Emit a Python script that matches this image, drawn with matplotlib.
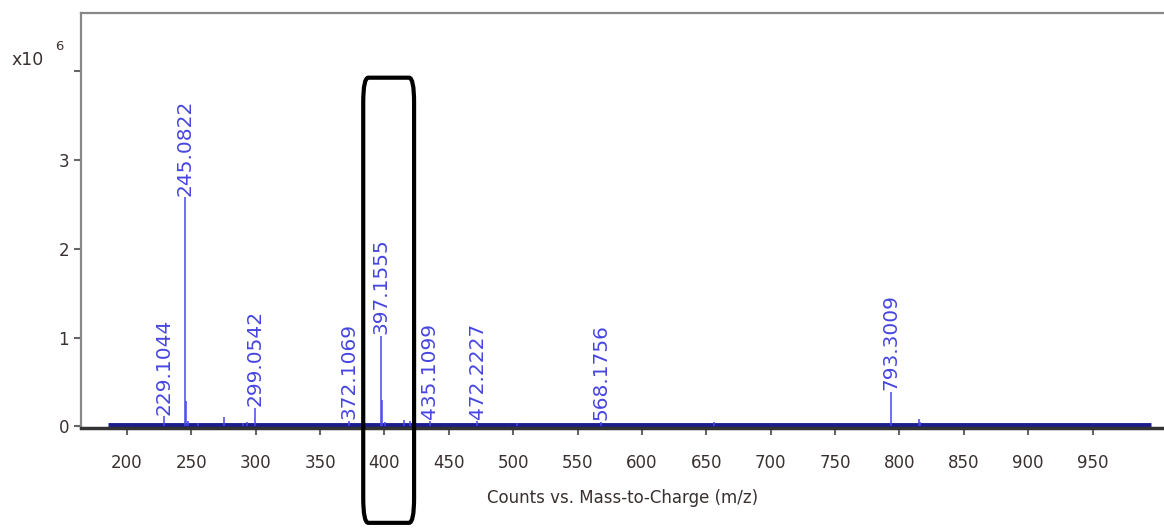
import matplotlib.pyplot as plt
from matplotlib.patches import FancyBboxPatch

# labelled peaks (m/z, intensity x10^6)
peak_mz = [229.1044, 245.0822, 299.0542, 372.1069, 397.1555, 435.1099, 472.2227, 568.1756, 793.3009]
peak_int = [0.11, 2.58, 0.21, 0.06, 1.02, 0.06, 0.06, 0.05, 0.39]

# small unlabelled peaks
minor_mz = [246.08, 247.1, 255.0, 275.0, 290.0, 293.0, 398.16, 400.2, 415.0, 420.0, 503.0, 656.0, 815.3, 816.3]
minor_int = [0.28, 0.06, 0.04, 0.1, 0.04, 0.05, 0.30, 0.05, 0.07, 0.06, 0.04, 0.05, 0.08, 0.05]

# baseline extent
base_mz = [185, 995]
base_int = [0.01, 0.01]

xticks = list(range(200, 1000, 50))
yticks = [0, 1, 2, 3, 4]
ytick_labels = ["0", "1", "2", "3", ""]

fig = plt.figure(figsize=(11.64, 5.29), dpi=100)
ax = fig.add_axes([0.0696, 0.191, 0.931, 0.7845])

ax.plot(base_mz, base_int, color="#1c1c8c", lw=3.5, solid_capstyle="butt", zorder=2)
ax.vlines(minor_mz, 0, minor_int, color="#4848ec", lw=1.1, zorder=3)
ax.vlines(peak_mz, 0, peak_int, color="#4848ec", lw=1.1, zorder=3)

for mz, h in zip(peak_mz, peak_int):
    ax.text(mz, h + 0.02, f"{mz:.4f}", rotation=90, ha="center", va="bottom",
            color="#4646e0", fontsize=14.5)

ax.set_xlim(164.3, 1006)
ax.set_ylim(-0.02, 4.66)
ax.set_xticks(xticks)
ax.set_yticks(yticks)
ax.set_yticklabels(ytick_labels)
ax.tick_params(axis="both", colors="#666666", labelcolor="#3a3030", labelsize=12,
               length=5, width=1.5)
ax.tick_params(axis="x", pad=14)

for s in ["left", "top"]:
    ax.spines[s].set_color("#888888")
    ax.spines[s].set_linewidth(1.6)
ax.spines["bottom"].set_color("#333333")
ax.spines["bottom"].set_linewidth(2.5)
ax.spines["right"].set_visible(False)

ax.set_xlabel("Counts vs. Mass-to-Charge (m/z)", fontsize=12, color="#3a3030", labelpad=12)

fig.text(0.010, 0.886, "x10", fontsize=12.5, color="#3a3030", va="center")
fig.text(0.047, 0.912, "6", fontsize=9.5, color="#3a3030", va="center")

# highlight box around the 397 peak
box = FancyBboxPatch((383.5, -1.09), 39.5, 5.02, boxstyle="round,pad=0,rounding_size=4",
                     mutation_aspect=0.07, fill=False, ec="black", lw=3,
                     clip_on=False, zorder=5)
ax.add_patch(box)

fig.savefig("out.png", dpi=100)
